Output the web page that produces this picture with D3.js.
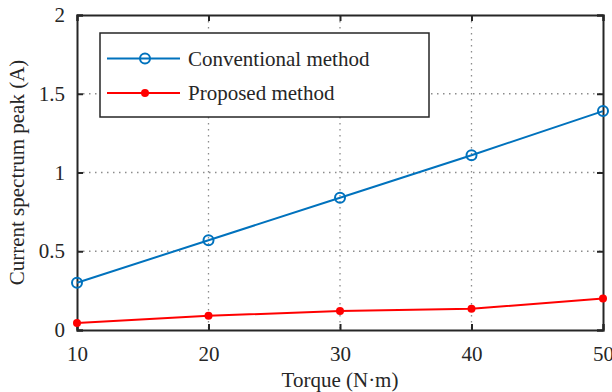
<!DOCTYPE html>
<html>
<head>
<meta charset="utf-8">
<script src="https://cdn.jsdelivr.net/npm/d3@7"></script>
<style>
  body { margin: 0; background: #fff; }
  text { font-family: "Liberation Serif", "Times New Roman", serif; fill: #262626; }
</style>
</head>
<body>
<div id="chart"></div>
<script>
/* DATA */
const torque = [10, 20, 30, 40, 50];
const conventional = [0.30, 0.57, 0.84, 1.11, 1.39];
const proposed = [0.045, 0.09, 0.12, 0.135, 0.20];
const xTicks = [10, 20, 30, 40, 50];
const yTicks = [0, 0.5, 1, 1.5, 2];
const seriesNames = ["Conventional method", "Proposed method"];

/* CONSTANTS */
const width = 612, height = 392,
      margin = {top: 15, right: 9, bottom: 62, left: 77},
      innerWidth = width - margin.left - margin.right,
      innerHeight = height - margin.top - margin.bottom;

const svg = d3.select("#chart").append("svg")
    .attr("width", width)
    .attr("height", height);

const g = svg.append("g")
    .attr("transform", `translate(${margin.left},${margin.top})`);

/* SCALES */
const xScale = d3.scaleLinear().domain([10, 50]).range([0, innerWidth]);
const yScale = d3.scaleLinear().domain([0, 2]).range([innerHeight, 0]);

/* GRID */
g.append("g")
  .selectAll("line")
  .data(xTicks.slice(1, -1))
  .join("line")
    .attr("x1", d => xScale(d)).attr("x2", d => xScale(d))
    .attr("y1", 0).attr("y2", innerHeight)
    .attr("stroke", "#8c8c8c").attr("stroke-width", 1.3)
    .attr("stroke-dasharray", "1.5,4.5");

g.append("g")
  .selectAll("line")
  .data(yTicks.slice(1, -1))
  .join("line")
    .attr("x1", 0).attr("x2", innerWidth)
    .attr("y1", d => yScale(d)).attr("y2", d => yScale(d))
    .attr("stroke", "#8c8c8c").attr("stroke-width", 1.3)
    .attr("stroke-dasharray", "1.5,4.5");

/* AXES */
const fmt = d => d3.format("~g")(d);
const tickLen = -6;

const xAxis = g.append("g")
  .attr("transform", `translate(0,${innerHeight})`)
  .call(d3.axisBottom(xScale).tickValues(xTicks).tickFormat(fmt).tickSize(tickLen).tickPadding(16));
const xTop = g.append("g")
  .call(d3.axisTop(xScale).tickValues(xTicks).tickFormat("").tickSize(tickLen));
const yAxis = g.append("g")
  .call(d3.axisLeft(yScale).tickValues(yTicks).tickFormat(fmt).tickSize(tickLen).tickPadding(12));
const yRight = g.append("g")
  .attr("transform", `translate(${innerWidth},0)`)
  .call(d3.axisRight(yScale).tickValues(yTicks).tickFormat("").tickSize(tickLen));

[xAxis, xTop, yAxis, yRight].forEach(a => {
  a.selectAll(".domain").attr("stroke", "#262626").attr("stroke-width", 2);
  a.selectAll(".tick line").attr("stroke", "#262626").attr("stroke-width", 2);
  a.selectAll("text").style("font-size", "21px").attr("fill", "#262626")
    .style("font-family", "Liberation Serif, serif");
});

/* AXIS LABELS */
svg.append("text")
  .attr("x", margin.left + innerWidth / 2)
  .attr("y", height - 5)
  .attr("text-anchor", "middle")
  .style("font-size", "21px")
  .text("Torque (N\u00b7m)");

svg.append("text")
  .attr("transform", `translate(24,${margin.top + innerHeight / 2}) rotate(-90)`)
  .attr("text-anchor", "middle")
  .style("font-size", "21px")
  .text("Current spectrum peak (A)");

/* LINES */
const line = d3.line()
  .x((d, i) => xScale(torque[i]))
  .y(d => yScale(d));

g.append("path")
  .datum(conventional)
  .attr("fill", "none")
  .attr("stroke", "#0072bd")
  .attr("stroke-width", 2)
  .attr("d", line);

g.selectAll("circle.conv")
  .data(conventional)
  .join("circle")
    .attr("class", "conv")
    .attr("cx", (d, i) => xScale(torque[i]))
    .attr("cy", d => yScale(d))
    .attr("r", 5)
    .attr("fill", "none")
    .attr("stroke", "#0072bd")
    .attr("stroke-width", 2);

g.append("path")
  .datum(proposed)
  .attr("fill", "none")
  .attr("stroke", "#ff0000")
  .attr("stroke-width", 2)
  .attr("d", line);

g.selectAll("circle.prop")
  .data(proposed)
  .join("circle")
    .attr("class", "prop")
    .attr("cx", (d, i) => xScale(torque[i]))
    .attr("cy", d => yScale(d))
    .attr("r", 4)
    .attr("fill", "#ff0000");

/* LEGEND */
const legend = svg.append("g").attr("transform", "translate(100,33)");
legend.append("rect")
  .attr("width", 329).attr("height", 84)
  .attr("fill", "#fff")
  .attr("stroke", "#262626").attr("stroke-width", 1.5);

const colors = ["#0072bd", "#ff0000"];
seriesNames.forEach((name, i) => {
  const yy = 25.5 + i * 34.5;
  legend.append("line")
    .attr("x1", 7).attr("x2", 80)
    .attr("y1", yy).attr("y2", yy)
    .attr("stroke", colors[i]).attr("stroke-width", 2);
  if (i === 0) {
    legend.append("circle").attr("cx", 45).attr("cy", yy).attr("r", 5)
      .attr("fill", "none").attr("stroke", colors[i]).attr("stroke-width", 2);
  } else {
    legend.append("circle").attr("cx", 45).attr("cy", yy).attr("r", 4)
      .attr("fill", colors[i]);
  }
  legend.append("text")
    .attr("x", 88).attr("y", yy + 7)
    .style("font-size", "21px")
    .text(name);
});
</script>
</body>
</html>
